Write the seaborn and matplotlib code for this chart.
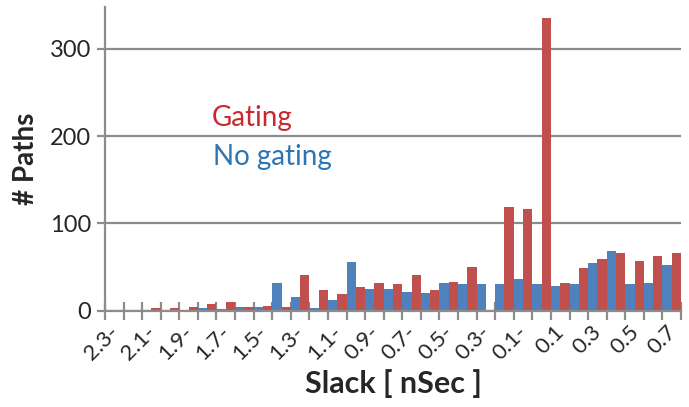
import numpy as np
import pandas as pd
import matplotlib.pyplot as plt
import matplotlib.transforms as mtransforms
import seaborn as sns

# Slack categories (nSec) and path counts
slack = ["-2.3", "-2.2", "-2.1", "-2.0", "-1.9", "-1.8", "-1.7", "-1.6", "-1.5", "-1.4",
         "-1.3", "-1.2", "-1.1", "-1.0", "-0.9", "-0.8", "-0.7", "-0.6", "-0.5", "-0.4",
         "-0.3", "-0.2", "-0.1", "0.0", "0.1", "0.2", "0.3", "0.4", "0.5", "0.6", "0.7"]
gating = [0, 0, 3, 3, 4, 8, 10, 4, 5, 4,
          41, 24, 19, 27, 32, 30, 41, 23, 33, 50,
          0, 119, 116, 335, 32, 49, 59, 66, 57, 62, 66]
no_gating = [0, 0, 0, 0, 0, 3, 2, 4, 4, 32,
             16, 3, 12, 56, 25, 25, 21, 20, 32, 30,
             30, 30, 36, 30, 28, 30, 55, 68, 30, 32, 52]
# tick labels as shown (every other category)
tick_labels = ["2.3-", "2.1-", "1.9-", "1.7-", "1.5-", "1.3-", "1.1-", "0.9-",
               "0.7-", "0.5-", "0.3-", "0.1-", "0.1", "0.3", "0.5", "0.7"]

df = pd.DataFrame({
    "slack": slack * 2,
    "paths": no_gating + gating,
    "series": ["No gating"] * len(slack) + ["Gating"] * len(slack),
})

sns.set_style("white")
plt.rcParams['font.family'] = ['Lato', 'DejaVu Sans']

fig = plt.figure(figsize=(6.89, 4.07), dpi=100)
ax = fig.add_axes([0.1524, 0.237, 0.8360, 0.746])

sns.barplot(data=df, x="slack", y="paths", hue="series", order=slack,
            hue_order=["No gating", "Gating"],
            palette={"No gating": "#4F81BD", "Gating": "#C0504D"},
            saturation=1, width=1.0, gap=0, linewidth=0, legend=False, ax=ax)

grey = "#8C8C8C"
ax.set_xlim(-0.5, len(slack) - 0.5)
ax.set_ylim(0, 348)
ax.set_yticks([0, 100, 200, 300])
ax.yaxis.grid(True, color=grey, linewidth=1.6)
ax.set_axisbelow(True)

ax.set_xticks(np.arange(0, len(slack), 2))
ax.set_xticklabels(tick_labels, rotation=45, ha="right", rotation_mode="anchor")
ax.set_xticks(np.arange(-0.5, len(slack), 1), minor=True)
ax.tick_params(axis="x", which="major", bottom=True, length=0, labelsize=16, pad=8)
ax.tick_params(axis="x", which="minor", bottom=True, direction="inout",
               length=13, width=1.6, color=grey)
ax.tick_params(axis="y", left=True, direction="out", length=6, width=1.6,
               color=grey, labelsize=17, pad=4)

# nudge the slanted labels a little to the left
shift = mtransforms.ScaledTranslation(-6 / 100, 0, fig.dpi_scale_trans)
for lbl in ax.get_xticklabels():
    lbl.set_transform(lbl.get_transform() + shift)

for side in ["top", "right"]:
    ax.spines[side].set_visible(False)
for side in ["left", "bottom"]:
    ax.spines[side].set_color(grey)
    ax.spines[side].set_linewidth(1.6)

ax.set_xlabel("Slack [ nSec ]", fontsize=22, fontweight="bold", labelpad=4)
ax.set_ylabel("# Paths", fontsize=20, fontweight="bold", labelpad=8)

fig.text(0.3077, 0.690, "Gating", color="#C8282E", fontsize=20, va="baseline")
fig.text(0.3091, 0.595, "No gating", color="#2E75B6", fontsize=20, va="baseline")

plt.savefig("out.png", dpi=100)
